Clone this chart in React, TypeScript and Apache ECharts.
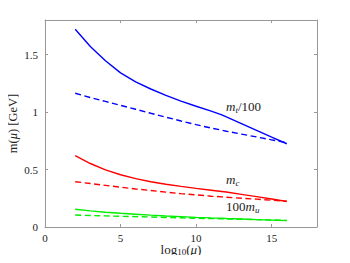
import React, { useEffect, useRef } from "react";
import * as echarts from "echarts";

const xs = [2, 3, 4, 5, 6, 7, 8, 9, 10, 11, 11.7, 12, 13, 14, 15, 16];
const topSolid = [1.72, 1.57, 1.445, 1.34, 1.262, 1.2, 1.145, 1.095, 1.05, 1.008, 0.975, 0.957, 0.899, 0.841, 0.782, 0.724];
const topDashed = [1.163, 1.126, 1.092, 1.058, 1.024, 0.989, 0.955, 0.922, 0.89, 0.86, 0.842, 0.833, 0.808, 0.783, 0.758, 0.733];
const charmSolid = [0.62, 0.552, 0.497, 0.454, 0.421, 0.394, 0.372, 0.353, 0.336, 0.32, 0.309, 0.304, 0.284, 0.264, 0.243, 0.222];
const charmDashed = [0.394, 0.378, 0.362, 0.346, 0.331, 0.317, 0.303, 0.29, 0.279, 0.268, 0.262, 0.259, 0.25, 0.242, 0.233, 0.225];
const upSolid = [0.154, 0.14, 0.128, 0.119, 0.111, 0.103, 0.096, 0.09, 0.084, 0.079, 0.076, 0.074, 0.069, 0.064, 0.06, 0.055];
const upDashed = [0.104, 0.1, 0.097, 0.093, 0.09, 0.087, 0.083, 0.08, 0.076, 0.073, 0.071, 0.07, 0.067, 0.064, 0.061, 0.058];

const xTicks = [0, 5, 10, 15];
const yTicks = [0, 0.5, 1, 1.5];

const FONT = "Liberation Serif";
const frame = "#999";
const NAME_SIZE = 13;
const SUB_SIZE = 9;

function pts(ys: number[]) {
  return xs.map((x, i) => [x, ys[i]]);
}

function line(name: string, ys: number[], color: string, dashed: boolean) {
  return {
    name,
    type: "line",
    xAxisIndex: 0,
    yAxisIndex: 0,
    data: pts(ys),
    showSymbol: false,
    smooth: false,
    lineStyle: { color, width: 1.4, type: dashed ? [6, 3.5] : "solid" },
    z: dashed ? 3 : 2,
  };
}

const labelRich = {
  i: { fontFamily: FONT, fontSize: NAME_SIZE, fontStyle: "italic", fill: "#222" },
  s: { fontFamily: FONT, fontSize: SUB_SIZE, fontStyle: "italic", fill: "#222", padding: [7, 0, 0, 0] },
  n: { fontFamily: FONT, fontSize: NAME_SIZE, fill: "#222" },
};

export default function App() {
  const ref = useRef<HTMLDivElement>(null);
  useEffect(() => {
    const chart = echarts.init(ref.current!, null, { renderer: "svg" });
    const axisCommon = {
      axisLine: { show: true, onZero: false, lineStyle: { color: frame, width: 1 } },
      axisTick: { show: true, inside: true, length: 3, lineStyle: { color: frame } },
      splitLine: { show: false },
    };
    chart.setOption({
      animation: false,
      backgroundColor: "#fff",
      grid: { left: 45, right: 33, top: 20, bottom: 36, outerBoundsMode: "none", containLabel: false },
      xAxis: [
        {
          type: "value",
          min: 0,
          max: 18,
          interval: 5,
          ...axisCommon,
          axisLabel: {
            color: "#222",
            fontFamily: FONT,
            fontSize: 11,
            margin: 5,
            formatter: (v: number) => (xTicks.includes(v) ? String(v) : ""),
          },
          name: "{n|log}{s|10}{n|(}{i|μ}{n|)}",
          nameLocation: "middle",
          nameGap: 15,
          nameMoveOverlap: false,
          nameTextStyle: {
            rich: {
              n: { fontFamily: FONT, fontSize: NAME_SIZE, lineHeight: 14, color: "#222" },
              s: { fontFamily: FONT, fontSize: SUB_SIZE, lineHeight: 9, color: "#222", padding: [5, 0, 0, 0] },
              i: { fontFamily: FONT, fontSize: NAME_SIZE, lineHeight: 14, color: "#222", fontStyle: "italic" },
            },
          },
        },
        {
          type: "value",
          position: "top",
          min: 0,
          max: 18,
          interval: 5,
          ...axisCommon,
          axisLabel: { show: false },
        },
      ],
      yAxis: [
        {
          type: "value",
          min: 0,
          max: 1.8,
          interval: 0.5,
          ...axisCommon,
          axisLabel: {
            color: "#222",
            fontFamily: FONT,
            fontSize: 11,
            margin: 7,
            formatter: (v: number) => (yTicks.includes(v) ? String(v) : ""),
          },
          name: "{n|m(}{i|μ}{n|) [GeV]}",
          nameLocation: "middle",
          nameRotate: 90,
          nameGap: 26,
          nameMoveOverlap: false,
          nameTextStyle: {
            rich: {
              n: { fontFamily: FONT, fontSize: 12.5, color: "#222" },
              i: { fontFamily: FONT, fontSize: 12.5, color: "#222", fontStyle: "italic" },
            },
          },
        },
        {
          type: "value",
          position: "right",
          min: 0,
          max: 1.8,
          interval: 0.5,
          ...axisCommon,
          axisLabel: { show: false },
        },
      ],
      series: [
        line("mt/100", topSolid, "#0000ff", false),
        line("mt/100 dashed", topDashed, "#0000ff", true),
        line("mc", charmSolid, "#ff0000", false),
        line("mc dashed", charmDashed, "#ff0000", true),
        line("100mu", upSolid, "#00ee00", false),
        line("100mu dashed", upDashed, "#00ee00", true),
      ],
      graphic: [
        {
          type: "text",
          left: 226,
          top: 100,
          style: { text: "{i|m}{s|t}{n|/100}", rich: labelRich },
        },
        {
          type: "text",
          left: 226,
          top: 173,
          style: { text: "{i|m}{s|c}", rich: labelRich },
        },
        {
          type: "text",
          left: 226,
          top: 200,
          style: { text: "{n|100}{i|m}{s|u}", rich: labelRich },
        },
      ],
    });
    return () => chart.dispose();
  }, []);
  return <div ref={ref} style={{ width: 350, height: 263, margin: -8 }} />;
}
